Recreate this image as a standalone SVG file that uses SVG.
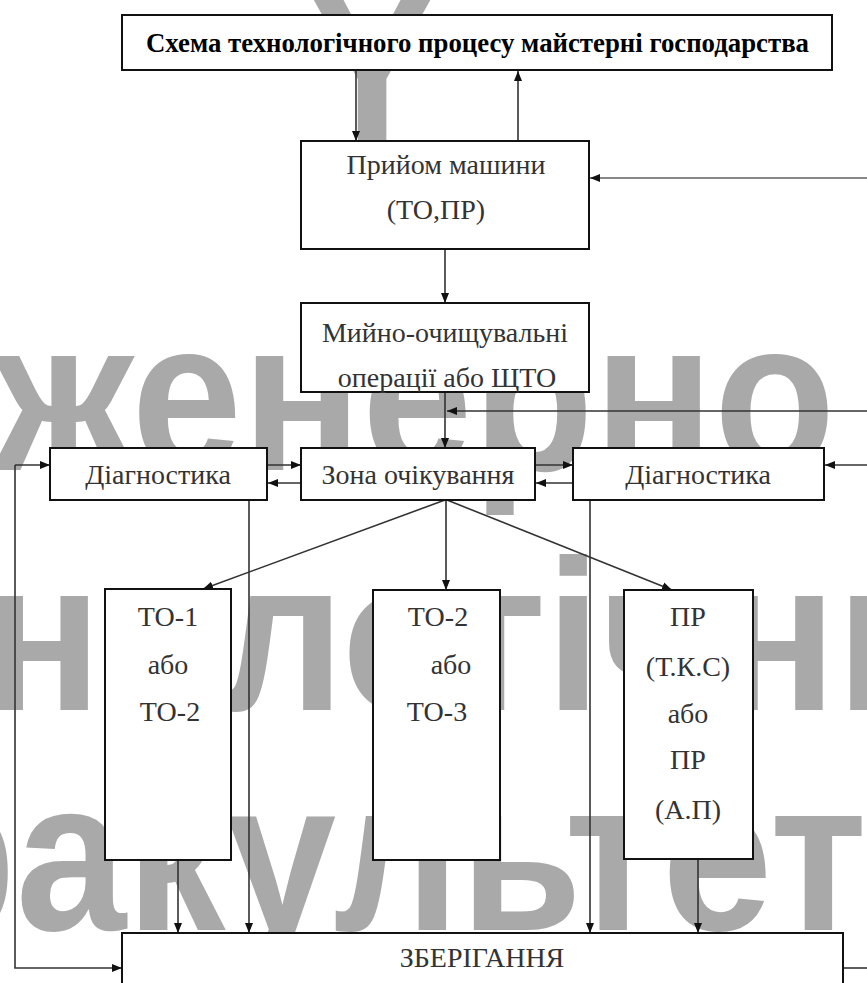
<svg xmlns="http://www.w3.org/2000/svg" width="867" height="983" viewBox="0 0 867 983">
<style>
.wm{fill:#a9a9a9;font-family:"Liberation Sans",Arial,sans-serif;font-weight:bold;font-size:216px}
.box{fill:#fff;stroke:#111;stroke-width:2}
.t{font-family:"Liberation Serif","Times New Roman",serif;font-size:28px;fill:#333;text-anchor:middle}
.ttl{font-family:"Liberation Serif","Times New Roman",serif;font-size:28px;fill:#000;font-weight:bold}
.c{fill:none;stroke:#333;stroke-width:1.6}
.cg{fill:none;stroke:#888;stroke-width:2}
</style>
<defs>
<marker id="ah" viewBox="0 0 10 10" refX="10" refY="5" markerWidth="10" markerHeight="10" markerUnits="userSpaceOnUse" orient="auto">
<path d="M0,1 L10,5 L0,9 z" fill="#111"/>
</marker>
</defs>
<rect width="867" height="983" fill="#fff"/>
<g id="watermark" class="wm">
<text transform="translate(372,140) scale(0.92,1)" text-anchor="middle">Y</text>
<text transform="translate(-182,470) scale(0.92,1)">інженерно</text>
<text transform="translate(-334,710) scale(0.92,1)">технологічний</text>
<text transform="translate(-158,930) scale(0.92,1)">факультет</text>
</g>
<g id="connectors">
<path class="c" d="M356,70 L356,141" marker-end="url(#ah)"/>
<path class="c" d="M518,141 L518,71" marker-end="url(#ah)"/>
<path class="cg" d="M867,178 L590,178" marker-end="url(#ah)"/>
<path class="c" d="M445,249 L445,303" marker-end="url(#ah)"/>
<path class="c" d="M445,392 L445,448" marker-end="url(#ah)"/>
<path class="c" d="M867,411 L447,411" marker-end="url(#ah)"/>
<path class="c" d="M267,465 L301,465" marker-end="url(#ah)"/>
<path class="c" d="M301,483 L268,483" marker-end="url(#ah)"/>
<path class="c" d="M535,465 L573,465" marker-end="url(#ah)"/>
<path class="c" d="M573,483 L536,483" marker-end="url(#ah)"/>
<path class="c" d="M867,465 L825,465" marker-end="url(#ah)"/>
<path class="c" d="M15,465 L50,465" marker-end="url(#ah)"/>
<path class="c" d="M15,465 L15,968 L122,968" marker-end="url(#ah)"/>
<path class="c" d="M445,500 L203,589" marker-end="url(#ah)"/>
<path class="c" d="M446,500 L446,590" marker-end="url(#ah)"/>
<path class="c" d="M447,500 L672,590" marker-end="url(#ah)"/>
<path class="c" d="M178,860 L178,933" marker-end="url(#ah)"/>
<path class="c" d="M249,500 L249,933" marker-end="url(#ah)"/>
<path class="c" d="M590,500 L590,933" marker-end="url(#ah)"/>
<path class="c" d="M698,859 L698,933" marker-end="url(#ah)"/>
<path class="c" d="M843,968 L867,968"/>
</g>
<g id="title">
<rect class="box" x="122" y="15" width="710" height="55"/>
<text class="ttl" x="146" y="52" textLength="663" lengthAdjust="spacingAndGlyphs">Схема технологічного процесу майстерні господарства</text>
</g>
<g id="pryiom">
<rect class="box" x="301" y="141" width="288" height="108"/>
<text class="t" x="446" y="174">Прийом машини</text>
<text class="t" x="436" y="219">(ТО,ПР)</text>
</g>
<g id="myino">
<rect class="box" x="301" y="303" width="288" height="89"/>
<text class="t" x="445" y="342">Мийно-очищувальні</text>
<text class="t" x="447" y="387">операції або ЩТО</text>
</g>
<g id="diag-left">
<rect class="box" x="50" y="448" width="217" height="52"/>
<text class="t" x="158" y="484">Діагностика</text>
</g>
<g id="zona">
<rect class="box" x="301" y="448" width="234" height="52"/>
<text class="t" x="418" y="484">Зона очікування</text>
</g>
<g id="diag-right">
<rect class="box" x="573" y="448" width="251" height="52"/>
<text class="t" x="698" y="484">Діагностика</text>
</g>
<g id="to1">
<rect class="box" x="105" y="589" width="126" height="271"/>
<text class="t" x="168" y="626">ТО-1</text>
<text class="t" x="168" y="674">або</text>
<text class="t" x="170" y="721">ТО-2</text>
</g>
<g id="to2">
<rect class="box" x="373" y="590" width="127" height="270"/>
<text class="t" x="438" y="626">ТО-2</text>
<text class="t" x="451" y="674">або</text>
<text class="t" x="437" y="721">ТО-3</text>
</g>
<g id="pr">
<rect class="box" x="624" y="590" width="129" height="269"/>
<text class="t" x="688" y="626">ПР</text>
<text class="t" x="688" y="676">(Т.К.С)</text>
<text class="t" x="688" y="723">або</text>
<text class="t" x="688" y="769">ПР</text>
<text class="t" x="688" y="819">(А.П)</text>
</g>
<g id="zberigannia">
<rect class="box" x="122" y="933" width="721" height="70"/>
<text class="t" x="482" y="967">ЗБЕРІГАННЯ</text>
</g>
</svg>
